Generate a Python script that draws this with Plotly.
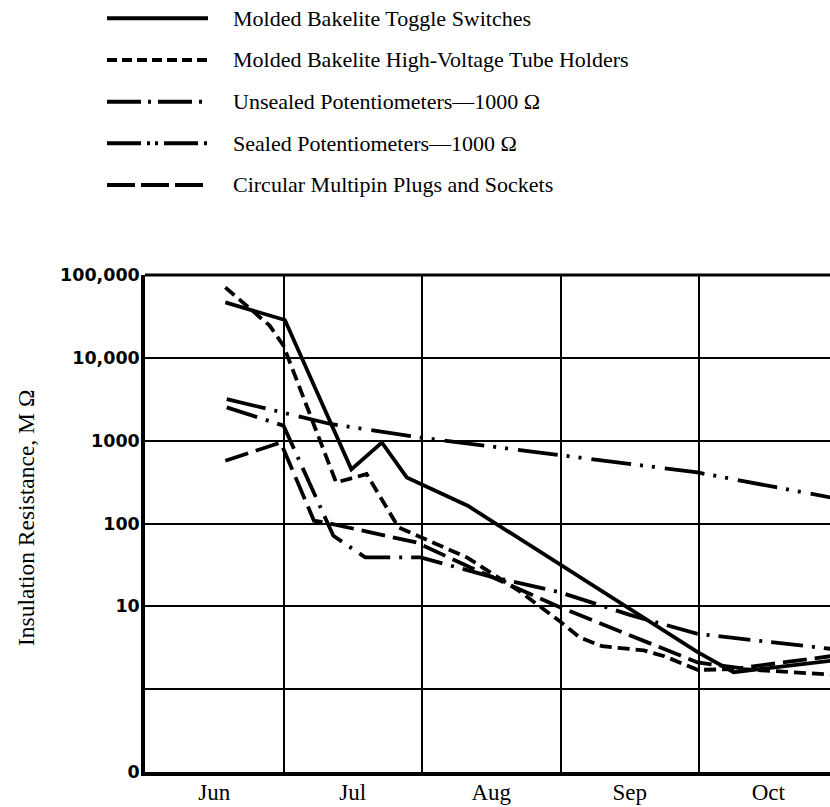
import plotly.graph_objects as go

# Months since 1 June (fractional) and insulation resistance in megohms
months = ["Jun", "Jul", "Aug", "Sep", "Oct"]

toggle_x = [0.58, 1.01, 1.49, 1.71, 1.89, 2.33, 3.99, 4.25, 4.95]
toggle_y = [46700, 28600, 450, 950, 360, 164, 2.8, 1.6, 2.2]

tube_x = [0.58, 0.90, 1.00, 1.38, 1.60, 1.83, 2.33, 2.70, 3.00, 3.14, 3.30, 3.60, 3.75, 3.99, 4.30, 4.95]
tube_y = [70800, 24500, 14000, 313, 395, 90, 38.5, 15.4, 6.5, 4.2, 3.3, 2.94, 2.5, 1.71, 1.75, 1.5]

unsealed_x = [0.59, 1.00, 1.36, 1.59, 1.99, 2.49, 3.00, 3.50, 3.99, 4.95]
unsealed_y = [2520, 1520, 71, 39, 39, 23, 14.7, 7.9, 4.65, 3.07]

sealed_x = [0.59, 1.00, 1.34, 1.99, 3.00, 3.99, 4.95]
sealed_y = [3180, 2150, 1590, 1090, 667, 413, 206]

plugs_x = [0.58, 0.98, 1.22, 1.30, 1.96, 2.35, 3.00, 3.99, 4.30, 4.95]
plugs_y = [572, 951, 108, 103, 59, 29.4, 9.7, 2.1, 1.8, 2.5]

y_tickvals = [0.1, 1, 10, 100, 1000, 10000, 100000]
y_ticktext = ["0", "", "10", "100", "1000", "10,000", "100,000"]

series = [
    ("Molded Bakelite Toggle Switches", toggle_x, toggle_y, "solid", "solid"),
    ("Molded Bakelite High-Voltage Tube Holders", tube_x, tube_y, "12px,6px", "10px,5px"),
    ("Unsealed Potentiometers\u20141000 \u03a9", unsealed_x, unsealed_y,
     "32px,9px,3px,9px", "34px,7px,3px,7px"),
    ("Sealed Potentiometers\u20141000 \u03a9", sealed_x, sealed_y,
     "40px,9px,3px,9px,3px,10px", "34px,6px,3px,5px,3px,6px"),
    ("Circular Multipin Plugs and Sockets", plugs_x, plugs_y, "24px,8px", "28px,6px"),
]

fig = go.Figure()
for name, xs, ys, dash, _ in series:
    fig.add_trace(go.Scatter(x=xs, y=ys, mode="lines", name=name,
                             line=dict(color="black", width=3.8, dash=dash),
                             showlegend=False))

W, H = 830, 807
ML, MR, MT, MB = 145, 0, 275, 35
pw, ph = W - ML - MR, H - MT - MB


def px_x(p):
    return (p - ML) / pw


def px_y(p):
    return (H - MB - p) / ph


# hand-drawn legend block above the plot
shapes = []
annotations = []
row_y = [18.3, 60, 101.7, 143.3, 185]
for (name, _, _, _, ldash), ry in zip(series, row_y):
    shapes.append(dict(type="line", xref="paper", yref="paper",
                       x0=px_x(107), x1=px_x(208), y0=px_y(ry), y1=px_y(ry),
                       line=dict(color="black", width=4, dash=ldash)))
    annotations.append(dict(xref="paper", yref="paper", x=px_x(231), y=px_y(ry),
                            xanchor="left", yanchor="middle", showarrow=False,
                            text=name,
                            font=dict(family="Liberation Serif", size=22, color="black")))

# top frame edge
shapes.append(dict(type="line", xref="paper", yref="paper", x0=0, x1=1, y0=1, y1=1,
                   line=dict(color="black", width=3.2)))

annotations.append(dict(xref="paper", yref="paper", x=px_x(26), y=px_y(518),
                        xanchor="center", yanchor="middle", textangle=-90,
                        showarrow=False, text="Insulation Resistance, M \u03a9",
                        font=dict(family="Liberation Serif", size=23.5, color="black")))

fig.update_layout(
    width=W, height=H,
    margin=dict(l=ML, r=MR, t=MT, b=MB, pad=0),
    paper_bgcolor="white", plot_bgcolor="white",
    shapes=shapes, annotations=annotations,
    xaxis=dict(range=[0, (W - ML) / 138.5], tickvals=[i + 0.5 for i in range(5)],
               ticktext=months, showgrid=False, zeroline=False,
               showline=True, linecolor="black", linewidth=3.5,
               ticks="", ticklabelstandoff=-3,
               tickfont=dict(family="Liberation Serif", size=23, color="black"),
               minor=dict(tickvals=[0, 1, 2, 3, 4], showgrid=True,
                          gridcolor="black", gridwidth=2, ticks="")),
    yaxis=dict(type="log", range=[-1, 5], tickvals=y_tickvals, ticktext=y_ticktext,
               showgrid=True, gridcolor="black", gridwidth=2, zeroline=False,
               showline=True, linecolor="black", linewidth=3.5, ticks="",
               ticklabelstandoff=-2,
               tickfont=dict(family="DejaVu Sans", size=17.5, color="black", weight="bold")),
)

fig.write_html("out.html")
